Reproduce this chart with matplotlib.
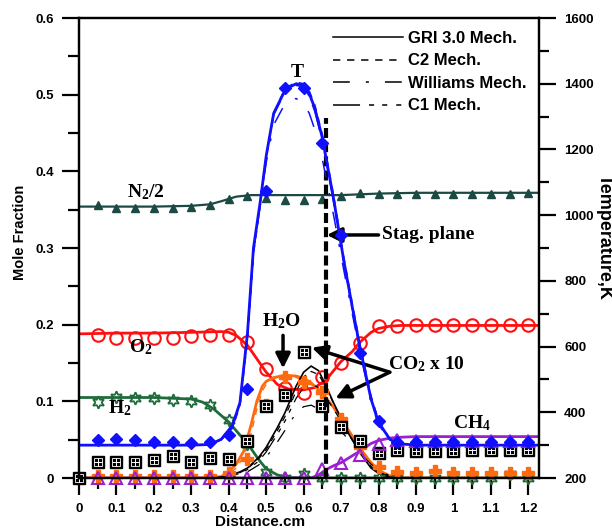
import numpy as np
import matplotlib
matplotlib.use('Agg')
import matplotlib.pyplot as plt
from matplotlib.ticker import MultipleLocator, FuncFormatter

plt.rcParams['font.family'] = 'Liberation Sans'
plt.rcParams['font.weight'] = 'bold'
plt.rcParams['mathtext.fontset'] = 'custom'
plt.rcParams['mathtext.rm'] = 'Liberation Serif:bold'
plt.rcParams['mathtext.default'] = 'rm'

# ---- model curves (GRI 3.0 unless noted) ----
# temperature, K
tx = [0, 0.1, 0.2, 0.3, 0.35, 0.38, 0.41, 0.43, 0.45, 0.466, 0.484, 0.50, 0.52, 0.546,
      0.56, 0.58, 0.60, 0.615, 0.63, 0.65, 0.68, 0.706, 0.73, 0.75, 0.78, 0.80, 0.83,
      0.85, 0.9, 1.0, 1.1, 1.23]
T_gri = [300, 300, 300, 300, 302, 318, 360, 430, 640, 900, 1040, 1180, 1310, 1370,
         1388, 1400, 1395, 1370, 1325, 1235, 1050, 870, 720, 600, 440, 370, 318,
         305, 300, 300, 300, 300]
T_c2 = [300, 300, 300, 300, 302, 316, 352, 420, 620, 880, 1030, 1175, 1310, 1375,
        1392, 1405, 1400, 1378, 1335, 1245, 1060, 880, 730, 610, 450, 375, 320,
        306, 300, 300, 300, 300]
T_will = [300, 300, 300, 300, 302, 318, 360, 430, 640, 890, 1030, 1160, 1275, 1330,
          1348, 1355, 1340, 1310, 1260, 1170, 1000, 840, 700, 585, 430, 362, 315,
          304, 300, 300, 300, 300]
T_c1 = [300, 300, 300, 300, 302, 318, 358, 428, 635, 895, 1038, 1178, 1305, 1365,
        1383, 1395, 1390, 1362, 1315, 1225, 1040, 862, 712, 595, 436, 367, 317,
        305, 300, 300, 300, 300]

# N2 / 2
nx = [0, 0.1, 0.2, 0.3, 0.35, 0.38, 0.42, 0.46, 0.5, 0.6, 0.7, 0.8, 0.9, 1.0, 1.1, 1.23]
N2 = [0.354, 0.354, 0.354, 0.355, 0.357, 0.361, 0.367, 0.369, 0.369, 0.369, 0.369,
      0.371, 0.372, 0.372, 0.372, 0.372]

# O2
ox = [0, 0.1, 0.2, 0.3, 0.38, 0.40, 0.42, 0.45, 0.48, 0.50, 0.53, 0.56, 0.60, 0.63,
      0.66, 0.70, 0.73, 0.75, 0.78, 0.80, 0.83, 0.86, 0.9, 1.0, 1.1, 1.23]
O2 = [0.188, 0.189, 0.189, 0.190, 0.191, 0.190, 0.186, 0.173, 0.152, 0.138, 0.122,
      0.116, 0.115, 0.118, 0.128, 0.152, 0.165, 0.177, 0.190, 0.195, 0.198, 0.199,
      0.199, 0.199, 0.199, 0.199]

# H2
hx = [0, 0.1, 0.2, 0.3, 0.33, 0.36, 0.40, 0.43, 0.45, 0.48, 0.50, 0.53, 0.56, 0.6,
      0.8, 1.0, 1.23]
H2 = [0.105, 0.105, 0.105, 0.103, 0.099, 0.090, 0.073, 0.056, 0.045, 0.024, 0.012,
      0.004, 0.0005, 0, 0, 0, 0]

# H2O
wx = [0, 0.2, 0.35, 0.38, 0.40, 0.42, 0.44, 0.46, 0.475, 0.49, 0.50, 0.52, 0.55,
      0.58, 0.60, 0.62, 0.65, 0.68, 0.70, 0.72, 0.75, 0.78, 0.80, 0.83, 0.86, 1.0, 1.23]
H2O_gri = [0, 0, 0, 0.002, 0.008, 0.018, 0.035, 0.070, 0.100, 0.120, 0.126, 0.131,
           0.134, 0.133, 0.130, 0.124, 0.111, 0.092, 0.077, 0.062, 0.039, 0.020,
           0.010, 0.003, 0, 0, 0]
H2O_c2 = [0, 0, 0, 0.001, 0.005, 0.013, 0.028, 0.058, 0.090, 0.114, 0.122, 0.130,
          0.133, 0.131, 0.128, 0.122, 0.110, 0.092, 0.078, 0.063, 0.040, 0.021,
          0.011, 0.003, 0, 0, 0]

# CO2 x 10
cx = [0, 0.3, 0.35, 0.38, 0.40, 0.43, 0.45, 0.48, 0.50, 0.53, 0.55, 0.58, 0.60, 0.62,
      0.64, 0.66, 0.68, 0.70, 0.72, 0.75, 0.78, 0.80, 0.83, 0.86, 1.0, 1.23]
CO2_gri = [0, 0, 0, 0.001, 0.003, 0.008, 0.013, 0.027, 0.040, 0.066, 0.085, 0.120,
           0.138, 0.146, 0.140, 0.120, 0.098, 0.078, 0.058, 0.033, 0.013, 0.006,
           0.001, 0, 0, 0]
CO2_c2 = [0, 0, 0, 0.001, 0.002, 0.007, 0.012, 0.025, 0.037, 0.062, 0.080, 0.113,
          0.132, 0.139, 0.135, 0.118, 0.097, 0.078, 0.058, 0.034, 0.014, 0.007,
          0.001, 0, 0, 0]
CO2_c1 = [0, 0, 0, 0, 0.002, 0.006, 0.011, 0.022, 0.034, 0.057, 0.074, 0.104, 0.118,
          0.122, 0.118, 0.105, 0.090, 0.074, 0.057, 0.034, 0.015, 0.008, 0.002, 0, 0, 0]
CO2_will = [0, 0, 0, 0, 0.001, 0.004, 0.008, 0.017, 0.027, 0.047, 0.062, 0.085, 0.093,
            0.095, 0.090, 0.082, 0.072, 0.061, 0.050, 0.033, 0.018, 0.010, 0.003, 0, 0, 0]

# CH4
mx = [0, 0.5, 0.62, 0.64, 0.66, 0.68, 0.70, 0.72, 0.75, 0.78, 0.80, 0.83, 0.85, 0.9,
      1.0, 1.23]
CH4 = [0, 0, 0, 0.004, 0.011, 0.016, 0.020, 0.026, 0.035, 0.045, 0.049, 0.052, 0.053,
       0.054, 0.054, 0.054]

# ---- measurements ----
ex = [0.05, 0.1, 0.15, 0.2, 0.25, 0.3, 0.35, 0.4, 0.45, 0.5, 0.55, 0.6, 0.65, 0.7,
      0.75, 0.8, 0.85, 0.9, 0.95, 1.0, 1.05, 1.1, 1.15, 1.2]
T_exp = [315, 319, 315, 310, 310, 306, 310, 331, 470, 1073, 1386, 1386, 1221, 939,
         580, 373, 309, 309, 309, 309, 309, 309, 309, 309]
N2_exp = [0.356, 0.352, 0.352, 0.352, 0.352, 0.353, 0.356, 0.364, 0.368, 0.365,
          0.362, 0.362, 0.364, 0.368, 0.372, 0.370, 0.370, 0.370, 0.370, 0.370,
          0.370, 0.370, 0.370, 0.372]
O2_exp = [0.186, 0.182, 0.182, 0.182, 0.183, 0.185, 0.186, 0.186, 0.178, 0.142,
          0.117, 0.111, 0.132, 0.150, 0.176, 0.198, 0.198, 0.200, 0.200, 0.200,
          0.200, 0.200, 0.200, 0.200]
H2_exp = [0.099, 0.106, 0.105, 0.104, 0.102, 0.100, 0.095, 0.076, 0.045, 0.008,
          0.0, 0.005, 0.0, 0, 0, 0, 0, 0, 0, 0, 0, 0, 0.005, 0]
H2O_exp = [0.003, 0.003, 0.003, 0.003, 0.003, 0.003, 0.003, 0.006, 0.025, 0.095,
           0.132, 0.125, 0.112, 0.077, 0.040, 0.015, 0.008, 0.006, 0.009, 0.006,
           0.006, 0.006, 0.006, 0.006]
CH4_exp = [0, 0, 0, 0, 0, 0, 0, 0, 0, 0, 0, 0, 0.012, 0.020, 0.030, 0.044, 0.049,
           0.048, 0.048, 0.048, 0.048, 0.048, 0.048, 0.048]
co2_ex = [0.0] + ex
CO2_exp = [0, 0.021, 0.021, 0.021, 0.024, 0.029, 0.021, 0.026, 0.025, 0.048, 0.094,
           0.108, 0.165, 0.094, 0.066, 0.048, 0.033, 0.036, 0.035, 0.035, 0.035,
           0.036, 0.036, 0.036, 0.037]

stag_x = 0.66
stag_top = 0.47

c_T = '#1010ff'
c_N2 = '#1b4a44'
c_O2 = '#ff1010'
c_H2 = '#1f6b3b'
c_H2O = '#ff6a10'
c_CH4 = '#9a20d0'

ls_c2 = (0, (4.8, 4.4))
ls_will = (0, (11, 10.5, 2, 10.5))
ls_c1 = (0, (17.7, 5.9, 3.3, 5.3, 3.3, 5.9, 3.3, 5.9))

fig = plt.figure(figsize=(6.12, 5.31), dpi=100)
ax = fig.add_axes([0.129, 0.0998, 0.752, 0.8663])
ax2 = ax.twinx()

# species lines
ax.plot(nx, N2, color=c_N2, lw=1.6)
ax.plot(ox, O2, color=c_O2, lw=2)
ax.plot(hx, H2, color=c_H2, lw=2)
ax.plot(mx, CH4, color=c_CH4, lw=2)
ax.plot(wx, H2O_c2, color=c_H2O, lw=1.0, ls=ls_c2)
ax.plot(wx, H2O_gri, color=c_H2O, lw=2)
ax.plot(cx, CO2_gri, color='k', lw=1.2)
ax.plot(cx, CO2_c2, color='k', lw=0.9, ls=ls_c2)
ax.plot(cx, CO2_c1, color='k', lw=0.9, ls=ls_c1)
ax.plot(cx, CO2_will, color='k', lw=0.9, ls=ls_will)

# species measurements
ax.plot(ex, N2_exp, '^', color=c_N2, ms=6, clip_on=False)
ax.plot(ex, O2_exp, 'o', mfc='none', mec=c_O2, mew=1.5, ms=9, clip_on=False)
ax.plot(ex, H2_exp, marker=(6, 1, 0), ls='none', mfc='none', mec=c_H2, mew=1.3,
        ms=9, clip_on=False)
ax.plot(ex, H2O_exp, 'P', color=c_H2O, ms=8, clip_on=False)
ax.plot(co2_ex, CO2_exp, 's', color='k', ms=8, clip_on=False)
ax.plot(co2_ex, CO2_exp, 's', mfc='none', mec='w', mew=0.6, ms=5.5, clip_on=False)
ax.plot(co2_ex, CO2_exp, '+', color='w', ms=5.5, mew=0.7, clip_on=False)
ax.plot(ex, CH4_exp, '^', mfc='none', mec=c_CH4, mew=1.5, ms=8, clip_on=False)

# temperature on the right axis
ax2.plot(tx, T_gri, color=c_T, lw=2)
ax2.plot(tx, T_c2, color=c_T, lw=1.1, ls=ls_c2)
ax2.plot(tx, T_will, color=c_T, lw=1.1, ls=ls_will)
ax2.plot(tx, T_c1, color=c_T, lw=1.1, ls=ls_c1)
ax2.plot(ex, T_exp, 'D', color=c_T, ms=6, clip_on=False)

# legend (line styles only)
h = [ax.plot([], [], color='k', lw=1.1, ls=s)[0] for s in ['-', ls_c2, ls_will, ls_c1]]
ax.legend(h, ['GRI 3.0 Mech.', 'C2 Mech.', 'Williams Mech.', 'C1 Mech.'],
          loc='upper left', bbox_to_anchor=(0.552, 0.972), frameon=False,
          prop={'family': 'Liberation Sans', 'weight': 'bold', 'size': 12},
          handlelength=4.2, handletextpad=0.3, labelspacing=0.45,
          borderpad=0, borderaxespad=0)

# stagnation plane
ax.vlines(stag_x, 0, stag_top, colors='k', lw=3, linestyles=(0, (2.4, 1.0)))

tfont = dict(family='Liberation Serif', weight='bold', size=14)
ax.text(0.583, 0.529, 'T', ha='center', va='center', **tfont)
ax.text(0.18, 0.373, 'N$_2$/2', ha='center', va='center', **tfont)
ax.text(0.165, 0.171, 'O$_2$', ha='center', va='center', **tfont)
ax.text(0.11, 0.091, 'H$_2$', ha='center', va='center', **tfont)
ax.text(0.54, 0.205, 'H$_2$O', ha='center', va='center', **tfont)
ax.text(0.825, 0.148, 'CO$_2$ x 10', ha='left', va='center', **tfont)
ax.text(1.05, 0.071, 'CH$_4$', ha='center', va='center', **tfont)
ax.text(0.81, 0.317, 'Stag. plane', ha='left', va='center', **tfont)

arw = dict(arrowstyle='-|>', color='k', lw=2.5, mutation_scale=22, shrinkA=0, shrinkB=0)
ax.annotate('', xy=(0.545, 0.143), xytext=(0.545, 0.186), arrowprops=arw)
ax.annotate('', xy=(0.622, 0.17), xytext=(0.83, 0.138), arrowprops=arw)
ax.annotate('', xy=(0.685, 0.104), xytext=(0.83, 0.138), arrowprops=arw)
ax.annotate('', xy=(0.662, 0.317), xytext=(0.80, 0.317), arrowprops=arw)

# axes and ticks
ax.set_xlim(0, 1.229)
ax.set_ylim(0, 0.6)
ax2.set_ylim(200, 1600)

ax.xaxis.set_major_locator(MultipleLocator(0.1))
ax.xaxis.set_minor_locator(MultipleLocator(0.05))
ax.xaxis.set_major_formatter(FuncFormatter(lambda v, p: ('%.1f' % v).rstrip('0').rstrip('.')))
ax.yaxis.set_major_locator(MultipleLocator(0.1))
ax.yaxis.set_minor_locator(MultipleLocator(0.05))
ax.yaxis.set_major_formatter(FuncFormatter(lambda v, p: ('%.1f' % v).rstrip('0').rstrip('.')))
ax2.yaxis.set_major_locator(MultipleLocator(200))
ax2.yaxis.set_minor_locator(MultipleLocator(100))

for a in (ax, ax2):
    for sp in a.spines.values():
        sp.set_linewidth(1.6)
ax.tick_params(axis='both', which='major', direction='out', length=12, width=1.6,
               labelsize=9.5, pad=6)
ax.tick_params(axis='both', which='minor', direction='out', length=8, width=1.6)
ax.tick_params(axis='x', which='both', top=False)
ax.tick_params(axis='y', which='both', right=False)
ax2.tick_params(axis='y', which='major', direction='out', length=12, width=1.6,
                labelsize=9.5, pad=6)
ax2.tick_params(axis='y', which='minor', direction='out', length=7, width=1.6)

ax.set_xlabel('Distance.cm', fontsize=11, fontweight='bold', va='center')
ax.set_ylabel('Mole Fraction', fontsize=10.5, fontweight='bold', va='center')
ax2.set_ylabel('Temperature,K', fontsize=13, fontweight='bold', rotation=270,
               va='center')
ax.xaxis.set_label_coords(0.393, -0.096)
ax.yaxis.set_label_coords(-0.128, 0.535)
ax2.yaxis.set_label_coords(1.141, 0.524)

fig.savefig('out.png', dpi=100)
